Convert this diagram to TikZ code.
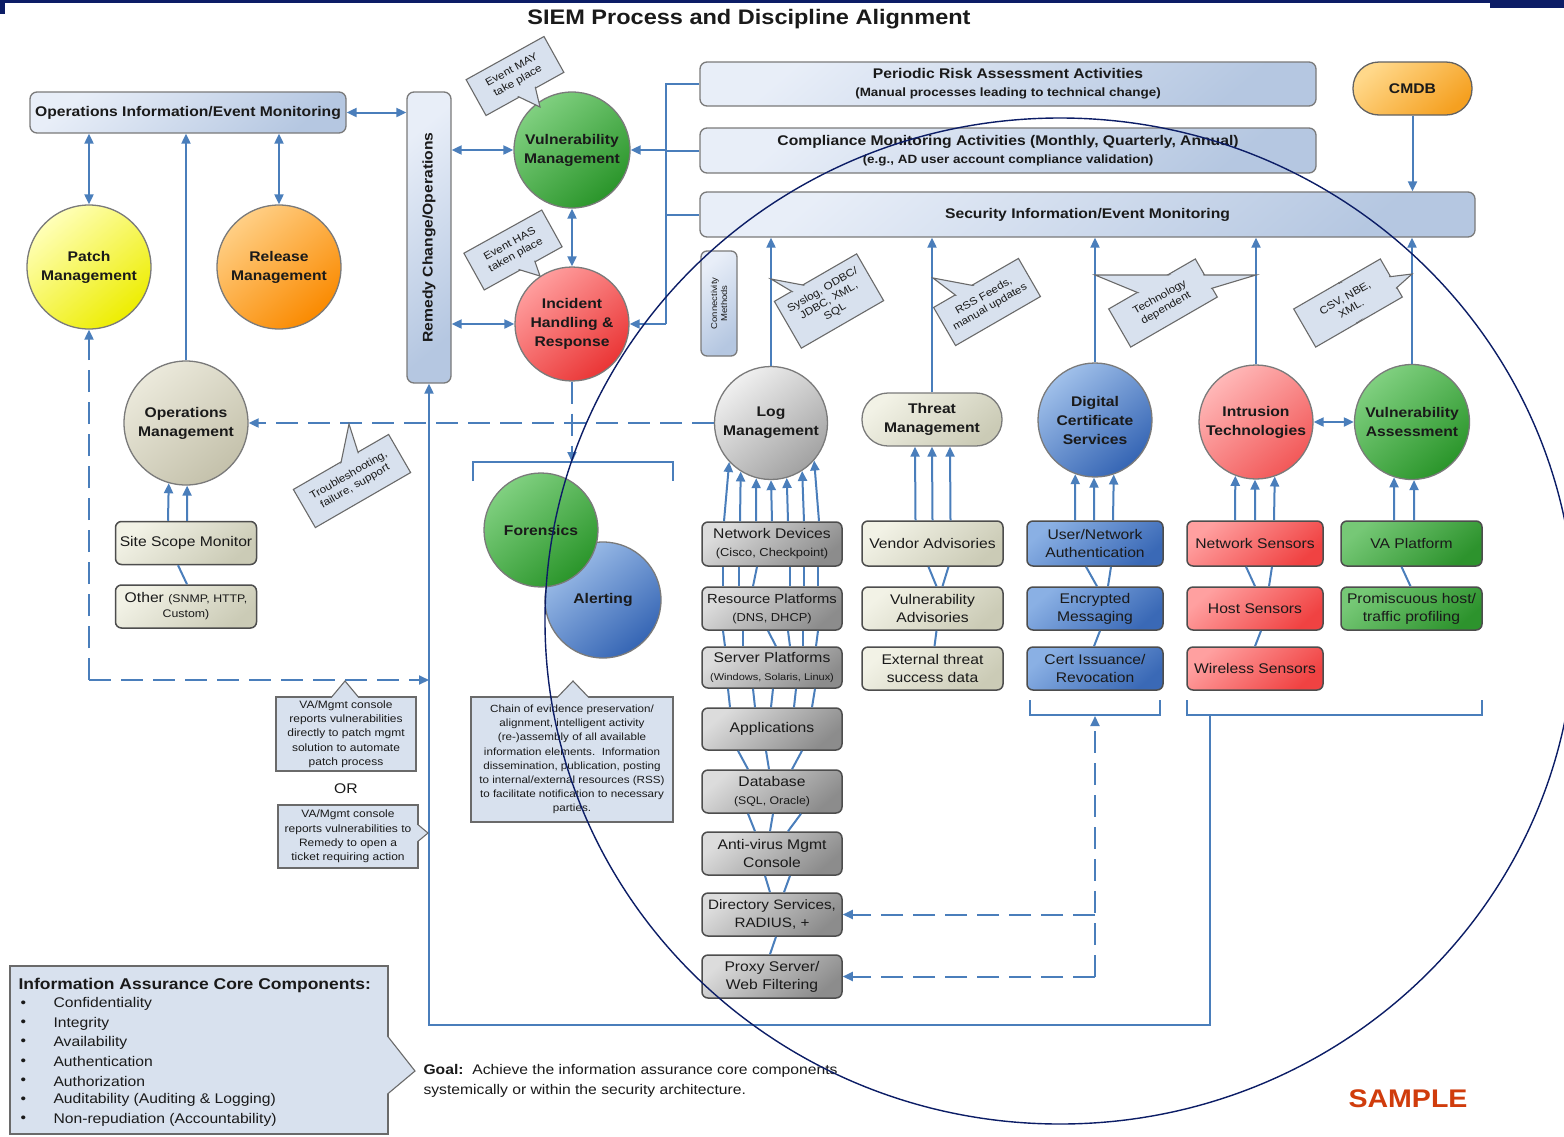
\documentclass[tikz,border=0pt]{standalone}
\usepackage{fontspec}
\setmainfont{Liberation Sans}[FakeStretch=1.12]
\usetikzlibrary{arrows.meta,calc}
\definecolor{ablue}{HTML}{4A7EBB}
\definecolor{navy}{HTML}{0C1D66}
\definecolor{txt}{HTML}{1A1A1A}
\definecolor{bgray}{HTML}{7A7A7A}
\definecolor{dgray}{HTML}{4D4D4D}
\definecolor{lbT}{HTML}{E8EEF8}
\definecolor{lbB}{HTML}{B5C7E1}
\definecolor{cfill}{HTML}{D8E1EE}
\definecolor{cline}{HTML}{6A6A6A}
\definecolor{yelT}{HTML}{FFFFB8}
\definecolor{yelB}{HTML}{EDED00}
\definecolor{oraT}{HTML}{FFCF85}
\definecolor{oraB}{HTML}{FA8A00}
\definecolor{opsT}{HTML}{EBE9DB}
\definecolor{opsB}{HTML}{C4C1AB}
\definecolor{grnT}{HTML}{80D080}
\definecolor{grnB}{HTML}{2A952A}
\definecolor{redT}{HTML}{FF9E9E}
\definecolor{redB}{HTML}{EA3535}
\definecolor{pnkT}{HTML}{FFB8B8}
\definecolor{pnkB}{HTML}{F25858}
\definecolor{bluT}{HTML}{A0C0EA}
\definecolor{bluB}{HTML}{3565B4}
\definecolor{lgT}{HTML}{F0F0F0}
\definecolor{lgB}{HTML}{A2A2A2}
\definecolor{beiT}{HTML}{F2F2E6}
\definecolor{beiB}{HTML}{CBCBB6}
\definecolor{bgT}{HTML}{DCDCDC}
\definecolor{bgB}{HTML}{8C8C8C}
\definecolor{bbT}{HTML}{8AB0E4}
\definecolor{bbB}{HTML}{3A69B6}
\definecolor{brT}{HTML}{FFA0A0}
\definecolor{brB}{HTML}{F04242}
\definecolor{bnT}{HTML}{76C876}
\definecolor{bnB}{HTML}{2D932D}
\definecolor{cmT}{HTML}{FFD88A}
\definecolor{cmB}{HTML}{F5A020}
\definecolor{sampc}{HTML}{D03C0C}
\newcommand\fz[2]{\fontsize{#1}{#2}\selectfont}
\newcommand\callshape[8]{%
  \node[cbox, rotate=#3, minimum width=#4, minimum height=#5] (#1) at (#2) {};
  \filldraw[cpath] (#6) -- (#7) -- (#8) -- cycle;
  \node[cinner, rotate=#3, minimum width=#4-2.6, minimum height=#5-2.6] (#1-in) at (#2) {};
}
\begin{document}
\begin{tikzpicture}[x=1pt,y=-1pt,
  grad/.style 2 args={top color=#1, bottom color=#2, shading angle=40},
  arr/.style={draw=ablue, line width=2pt, -{Triangle[length=10pt,width=9pt]}},
  darr/.style={draw=ablue, line width=2pt, {Triangle[length=10pt,width=9pt]}-{Triangle[length=10pt,width=9pt]}},
  conn/.style={draw=ablue, line width=2pt},
  dsh/.style={dash pattern=on 22pt off 10pt},
  lbbox/.style={draw=bgray, line width=1.3pt, rounded corners=7pt, grad={lbT}{lbB}, inner sep=0pt, align=center, text=txt, font=\bfseries\fz{14}{18}},
  circ/.style={circle, draw=bgray, line width=1.3pt, inner sep=0pt, align=center, text=txt, font=\bfseries\fz{14}{19}},
  gbox/.style={rounded corners=6pt, line width=1.5pt, minimum height=43, inner sep=1pt, align=center, text=txt, font=\fz{14}{18}},
  logbox/.style={gbox, draw=dgray, grad={bgT}{bgB}, minimum width=140},
  thrbox/.style={gbox, draw=dgray, grad={beiT}{beiB}, minimum width=141},
  dcsbox/.style={gbox, draw=dgray, grad={bbT}{bbB}, minimum width=136},
  intbox/.style={gbox, draw=dgray, grad={brT}{brB}, minimum width=136},
  vabox/.style={gbox, draw=dgray, grad={bnT}{bnB}, minimum width=141},
  cbox/.style={draw=cline, fill=cfill, line width=1.1pt, inner sep=0pt},
  cpath/.style={draw=cline, fill=cfill, line width=1.1pt},
  cinner/.style={fill=cfill, inner sep=0pt},
  ctext/.style={font=\fz{10.5}{12.5}, align=center, text=txt, inner sep=0pt}
]
\useasboundingbox (0,0) rectangle (1564,1136);
\fill[white] (0,0) rectangle (1564,1136);
\clip (0,0) rectangle (1564,1136);

% top band
\fill[navy] (0,0) rectangle (1490,3);
\fill[navy] (1490,0) rectangle (1564,8);
\fill[navy] (0,0) rectangle (5,14);
\node[font=\bfseries\fz{21}{24}, text=txt] (title) at (749,19) {SIEM Process and Discipline Alignment};

% left boxes
\node[lbbox, minimum width=316, minimum height=41] (oiem) at (188,112.5) {Operations Information/Event Monitoring};
\node[lbbox, minimum width=44, minimum height=291] (remedy) at (429,237.5) {};
\node[rotate=90, font=\bfseries\fz{14}{16}, text=txt] (remedyt) at (remedy) {Remedy Change/Operations};

% circles left
\node[circ, grad={yelT}{yelB}, minimum size=124] (patch) at (89,267) {Patch\\Management};
\node[circ, grad={oraT}{oraB}, minimum size=124] (release) at (279,267) {Release\\Management};
\node[circ, grad={opsT}{opsB}, minimum size=124] (opsm) at (186,423) {Operations\\Management};
\node[circ, grad={grnT}{grnB}, minimum size=116] (vulnm) at (572,150) {Vulnerability\\Management};
\node[circ, grad={redT}{redB}, minimum size=114] (incident) at (572,324) {Incident\\Handling \&\\Response};
\node[circ, grad={bluT}{bluB}, minimum size=116] (alerting) at (603,600) {Alerting};
\node[circ, grad={grnT}{grnB}, minimum size=114] (forensics) at (541,530) {Forensics};

% ops boxes
\node[thrbox] (ssm) at (186,543) {Site Scope Monitor};
\node[thrbox] (other) at (186,606.5) {Other {\fz{11}{12}(SNMP, HTTP,}\\[-3pt]{\fz{11}{12}Custom)}};

% right top boxes
\node[lbbox, minimum width=616, minimum height=44] (periodic) at (1008,84) {Periodic Risk Assessment Activities\\{\fz{12}{12}(Manual processes leading to technical change)}};
\node[lbbox, minimum width=616, minimum height=45] (compliance) at (1008,150.5) {Compliance Monitoring Activities (Monthly, Quarterly, Annual)\\{\fz{12}{12}(e.g., AD user account compliance validation)}};
\node[lbbox, minimum width=775, minimum height=45] (siem) at (1087.5,214.5) {Security Information/Event Monitoring};
\node[draw=bgray!80!black, line width=1.3pt, rounded corners=26pt, grad={cmT}{cmB}, minimum width=119, minimum height=53, font=\bfseries\fz{14}{16}, text=txt] (cmdb) at (1412.5,88.5) {CMDB};
\node[lbbox, minimum width=36, minimum height=105, rounded corners=6pt] (conmeth) at (719,303.5) {};
\node[rotate=90, font=\fz{8.5}{10}, align=center, text=txt] (conmetht) at (conmeth) {Connectivity\\Methods};

% right circles
\node[circ, grad={lgT}{lgB}, minimum size=113] (log) at (771,423) {Log\\Management};
\node[draw=bgray, line width=1.3pt, rounded corners=26pt, grad={beiT}{beiB}, minimum width=140, minimum height=53, align=center, text=txt, font=\bfseries\fz{14}{19}] (threat) at (932,419.5) {Threat\\Management};
\node[circ, grad={bluT}{bluB}, minimum size=114] (dcs) at (1095,420) {Digital\\Certificate\\Services};
\node[circ, grad={pnkT}{pnkB}, minimum size=114] (intr) at (1256,422) {Intrusion\\Technologies};
\node[circ, grad={grnT}{grnB}, minimum size=115] (vaa) at (1412,422) {Vulnerability\\Assessment};

% log column
\node[logbox, minimum height=44] (nd) at (772,544) {Network Devices\\{\fz{11.5}{12}(Cisco, Checkpoint)}};
\node[logbox, font=\fz{13.2}{18}] (rp) at (772,608.5) {Resource Platforms\\{\fz{11.5}{12}(DNS, DHCP)}};
\node[logbox, minimum height=41] (sp) at (772,667.5) {Server Platforms\\{\fz{9.8}{12}(Windows, Solaris, Linux)}};
\node[logbox, minimum height=42] (app) at (772,729) {Applications};
\node[logbox] (db) at (772,791.5) {Database\\{\fz{11}{12}(SQL, Oracle)}};
\node[logbox] (av) at (772,853.5) {Anti-virus Mgmt\\Console};
\node[logbox, font=\fz{13.6}{18}] (ds) at (772,914.5) {Directory Services,\\RADIUS, +};
\node[logbox] (px) at (772,976.5) {Proxy Server/\\Web Filtering};

% threat column
\node[thrbox, minimum height=45] (vend) at (932.5,543.5) {Vendor Advisories};
\node[thrbox] (vadv) at (932.5,608.5) {Vulnerability\\Advisories};
\node[thrbox] (ext) at (932.5,668.5) {External threat\\success data};
% dcs column
\node[dcsbox, minimum height=45] (una) at (1095,543.5) {User/Network\\Authentication};
\node[dcsbox] (em) at (1095,608.5) {Encrypted\\Messaging};
\node[dcsbox] (ci) at (1095,668.5) {Cert Issuance/\\Revocation};
% intrusion column
\node[intbox, minimum height=45] (ns) at (1255,543.5) {Network Sensors};
\node[intbox] (hs) at (1255,608.5) {Host Sensors};
\node[intbox] (ws) at (1255,668.5) {Wireless Sensors};
% va column
\node[vabox, minimum height=45] (vap) at (1411.5,543.5) {VA Platform};
\node[vabox] (ph) at (1411.5,608.5) {Promiscuous host/\\traffic profiling};

% ---------- connectors left ----------
\draw[darr] (oiem.east) -- (oiem.east -| remedy.west);
\draw[darr] (patch.north) -- (patch.north |- oiem.south);
\draw[darr] (release.north) -- (release.north |- oiem.south);
\draw[arr] (opsm.north) -- (opsm.north |- oiem.south);
\coordinate (pl) at (89,680);
\draw[arr, dsh] (pl) -- (patch.south);
\draw[arr, dsh] (pl) -- (pl -| remedy.south);
\draw[darr] (vulnm.west -| remedy.east) -- (vulnm.west);
\draw[darr] (incident.west -| remedy.east) -- (incident.west);
\draw[darr] (vulnm.south) -- (incident.north);
\coordinate (jx) at (666,324);
\draw[conn] (periodic.west) -- (periodic.west -| jx) -- (jx);
\draw[conn] (compliance.west) -- (compliance.west -| jx);
\draw[conn] (siem.west) -- (siem.west -| jx);
\draw[arr] (vulnm.east -| jx) -- (vulnm.east);
\draw[arr] (jx) -- (incident.east);
\coordinate (fb) at (572,462);
\draw[arr, dsh] (incident.south) -- (fb);
\draw[conn] (473,481) -- (473,462) -- (673,462) -- (673,481);
\draw[arr, dsh] (log.west) -- (opsm.east);
\draw[arr] ([xshift=-18]ssm.north) -- (opsm.-106.9);
\draw[arr] ([xshift=1]ssm.north) -- (opsm.-89.1);
\draw[conn] ([xshift=-8]ssm.south) -- ([xshift=1]other.north);

% ---------- connectors right ----------
\draw[arr] (cmdb.south) -- (cmdb.south |- siem.north);
\draw[arr] (log.north) -- (log.north |- siem.south);
\draw[arr] (threat.north) -- (threat.north |- siem.south);
\draw[arr] (dcs.north) -- (dcs.north |- siem.south);
\draw[arr] (intr.north) -- (intr.north |- siem.south);
\draw[arr] (vaa.north) -- (vaa.north |- siem.south);
\draw[darr] (intr.east) -- (vaa.west);

\draw[arr] ([xshift=-48]nd.north) -- (log.-137);
\draw[arr] ([xshift=-32]nd.north) -- (log.-122);
\draw[arr] ([xshift=-16]nd.north) -- (log.-105.5);
\draw[arr] (nd.north) -- (log.-90);
\draw[arr] ([xshift=16]nd.north) -- (log.-74.5);
\draw[arr] ([xshift=32]nd.north) -- (log.-57.6);
\draw[arr] ([xshift=47]nd.north) -- (log.-41.4);
\foreach \a/\b in {-49/-49,-33/-33,-15/-19,18/18,32/32,46/46} \draw[conn] ([xshift=\a]nd.south) -- ([xshift=\b]rp.north);
\foreach \a/\b in {-49/-47,-29/-29,-4/4,16/18,31/31,46/44} \draw[conn] ([xshift=\a]rp.south) -- ([xshift=\b]sp.north);
\foreach \a/\b in {-44/-42,-19/-17,1/-1,24/22,43/40} \draw[conn] ([xshift=\a]sp.south) -- ([xshift=\b]app.north);
\foreach \a/\b in {-34/-24,-6/-3,30/20} \draw[conn] ([xshift=\a]app.south) -- ([xshift=\b]db.north);
\foreach \a/\b in {-24/-17,1/-2,29/16} \draw[conn] ([xshift=\a]db.south) -- ([xshift=\b]av.north);
\foreach \a/\b in {-7/-2,18/12} \draw[conn] ([xshift=\a]av.south) -- ([xshift=\b]ds.north);
\draw[conn] ([xshift=4]ds.south) -- ([xshift=-2]px.north);

\draw[arr] ([xshift=-17]vend.north) -- ([xshift=-17]threat.south);
\draw[arr] (vend.north) -- (threat.south);
\draw[arr] ([xshift=18]vend.north) -- ([xshift=18]threat.south);
\draw[conn] ([xshift=-4]vend.south) -- ([xshift=4]vadv.north);
\draw[conn] ([xshift=16]vend.south) -- ([xshift=10]vadv.north);
\draw[conn] ([xshift=4]vadv.south) -- ([xshift=2]ext.north);

\draw[arr] ([xshift=-20]una.north) -- (dcs.-110.5);
\draw[arr] ([xshift=-1]una.north) -- (dcs.-91);
\draw[arr] ([xshift=18]una.north) -- (dcs.-71.6);
\draw[conn] ([xshift=-9]una.south) -- ([xshift=2]em.north);
\draw[conn] ([xshift=16]una.south) -- ([xshift=13]em.north);
\draw[conn] ([xshift=5]em.south) -- ([xshift=-1]ci.north);

\draw[arr] ([xshift=-20]ns.north) -- (intr.-111.6);
\draw[arr] (ns.north) -- (intr.-91);
\draw[arr] ([xshift=19]ns.north) -- (intr.-71.6);
\draw[conn] ([xshift=-9]ns.south) -- ([xshift=0]hs.north);
\draw[conn] ([xshift=17]ns.south) -- ([xshift=14]hs.north);
\draw[conn] ([xshift=6]hs.south) -- ([xshift=0]ws.north);

\draw[arr] ([xshift=-17.5]vap.north) -- (vaa.-108.4);
\draw[arr] ([xshift=2.5]vap.north) -- (vaa.-88);
\draw[conn] ([xshift=-10]vap.south) -- ([xshift=-1]ph.north);

% brackets
\draw[conn] (1030,700) -- (1030,715) -- (1160,715) -- (1160,700);
\draw[conn] (1187,700) -- (1187,715) -- (1482,715) -- (1482,700);
\coordinate (b1) at (1095,716);
\coordinate (b2) at (1210,715);
\coordinate (dj) at (1095,976.5);
\draw[arr, dsh] (dj) -- (b1);
\draw[arr, dsh] (ds.east -| dj) -- (ds.east);
\draw[arr, dsh] (dj) -- (px.east);
\coordinate (rb) at (429,1025);
\draw[arr] (b2) |- (rb) -- (remedy.south);

% ---------- callouts ----------
\callshape{emay}{515,76}{29}{89}{41}{540,107}{$(515,76)!19pt!90:(540,107)$}{$(515,76)!19pt!-90:(540,107)$}
\node[ctext, rotate=29] (emayt) at (515,76) {Event MAY\\take place};
\callshape{ehas}{513,250}{29}{89}{42}{540,276}{$(513,250)!19pt!90:(540,276)$}{$(513,250)!19pt!-90:(540,276)$}
\node[ctext, rotate=29] (ehast) at (513,250) {Event HAS\\taken place};
\callshape{trb}{352,481}{30}{110}{44}{349,424}{$(352,481)!15pt!90:(349,424)$}{$(352,481)!15pt!-90:(349,424)$}
\node[ctext, rotate=30] (trbt) at (352,481) {Troubleshooting,\\failure, support};
\callshape{sysl}{829,301}{30}{95}{54}{771,279}{$(829,301)!11pt!90:(771,279)$}{$(829,301)!11pt!-90:(771,279)$}
\node[ctext, rotate=30] (syslt) at (829,301) {Syslog, ODBC/\\JDBC, XML,\\SQL};
\callshape{rss}{987,302}{30}{98}{44}{933,278}{$(987,302)!14pt!90:(933,278)$}{$(987,302)!14pt!-90:(933,278)$}
\node[ctext, rotate=30] (rsst) at (987,302) {RSS Feeds,\\manual updates};
\callshape{tech}{1163,303}{30}{100}{44}{1095,275}{1256,275}{1163,303}
\node[ctext, rotate=30] (techt) at (1163,303) {Technology\\dependent};
\callshape{csv}{1348,303}{30}{100}{44}{1412,274}{$(1348,303)!22pt!90:(1412,274)$}{$(1348,303)!22pt!-90:(1412,274)$}
\node[ctext, rotate=30] (csvt) at (1348,303) {CSV, NBE,\\XML.};

\callshape{va1}{346,734}{0}{140}{74}{345,681}{325,705}{365,705}
\node[ctext, font=\fz{10.7}{14.3}] (va1t) at (346,734) {VA/Mgmt console\\reports vulnerabilities\\directly to patch mgmt\\solution to automate\\patch process};
\node[font=\fz{14}{16}, text=txt] (ortext) at (346,789) {OR};
\callshape{va2}{348,836.5}{0}{140}{63}{428,833}{410,818}{410,848}
\node[ctext, font=\fz{10.7}{14.3}] (va2t) at (348,836.5) {VA/Mgmt console\\reports vulnerabilities to\\Remedy to open a\\ticket requiring action};
\callshape{chain}{572,759.5}{0}{202}{125}{573,681}{550,705}{596,705}
\node[ctext, font=\fz{10.4}{14.2}] (chaint) at (572,759.5) {Chain of evidence preservation/\\alignment, intelligent activity\\(re-)assembly of all available\\information elements.\ \ Information\\dissemination, publication, posting\\to internal/external resources (RSS)\\to facilitate notification to necessary\\parties.};

\callshape{iac}{199,1050}{0}{378}{168}{415,1071}{378,1024}{378,1102}
\node[anchor=west, font=\bfseries\fz{15.6}{18}, text=txt] (iact) at (15,985) {Information Assurance Core Components:};
\foreach \t [count=\i] in {Confidentiality,Integrity,Availability,Authentication,Authorization,Auditability (Auditing \& Logging),Non-repudiation (Accountability)} {
  \node[anchor=west, font=\fz{14}{16}, text=txt] (bul\i) at (17,{985+19.2*\i}) {•};
  \node[anchor=west, font=\fz{14}{16}, text=txt] (itm\i) at (50,{985+19.2*\i}) {\t};
}
\node[anchor=west, align=left, font=\fz{14}{20}, text=txt] (goal) at (420,1081) {\textbf{Goal:}\ \ Achieve the information assurance core components\\systemically or within the security architecture.};

\node[text=sampc, font=\bfseries\fz{25.5}{30}] (sample) at (1408,1099) {SAMPLE};

% big ellipse overlay
\draw[navy, line width=1.4pt] (1060,621) ellipse [x radius=515, y radius=503];
\end{tikzpicture}
\end{document}
